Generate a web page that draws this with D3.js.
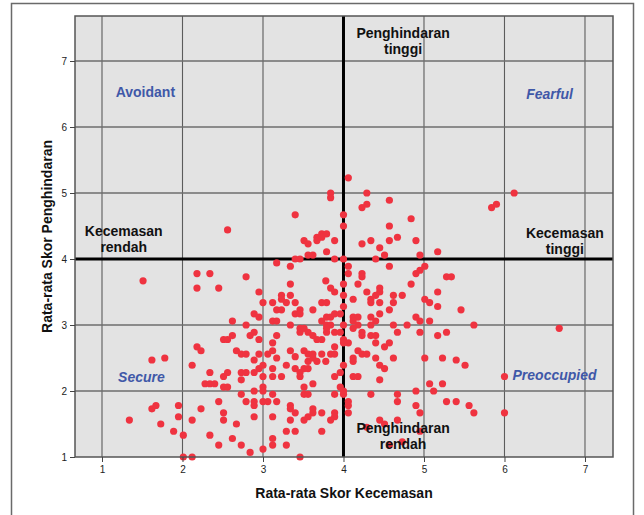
<!DOCTYPE html>
<html>
<head>
<meta charset="utf-8">
<script src="https://cdn.jsdelivr.net/npm/d3@7/dist/d3.min.js"></script>
<style>
  html, body { margin: 0; padding: 0; background: #ffffff; }
  svg { display: block; font-family: "Liberation Sans", Arial, Helvetica, sans-serif; }
</style>
</head>
<body>
<svg id="chart" width="644" height="515"></svg>
<script>
// Rata-rata skor kecemasan (sumbu X) per responden
const kecemasan = [
  2.56, 1.51, 2.18, 2.34, 2.18, 2.45, 2.62, 2.51, 2.56, 2.62, 2.18, 2.23, 2.67, 2.73, 1.62, 1.78,
  2.12, 2.34, 2.51, 2.56, 2.73, 2.28, 2.34, 2.40, 2.51, 2.56, 2.73, 2.73, 2.45, 1.62, 1.67, 1.95,
  2.23, 1.34, 1.73, 1.95, 2.12, 2.51, 2.51, 2.67, 1.89, 2.01, 2.34, 2.62, 2.45, 2.73, 2.01, 2.12,
  3.84, 3.84, 3.40, 3.51, 3.56, 3.67, 3.73, 3.79, 3.67, 3.73, 3.89, 3.79, 3.56, 3.62, 3.40, 3.46, 3.89,
  3.17, 3.34, 2.79, 3.34, 3.78, 3.84, 3.89, 2.95, 3.23, 3.23, 3.34, 3.00, 3.12, 3.29, 3.40, 3.73,
  3.79, 3.17, 3.23, 3.40, 3.46, 3.46, 3.62, 3.96, 3.79, 3.84, 3.89, 2.89, 2.95, 3.12, 3.17, 2.79,
  3.34, 3.73, 3.79, 3.84, 3.46, 3.46, 3.51, 3.56, 3.62, 3.67, 3.73, 3.79, 3.79, 3.89, 3.96, 2.84,
  2.89, 2.95, 3.12, 3.17, 3.89, 2.79, 2.95, 3.12, 3.06, 3.34, 3.51, 3.56, 3.62, 3.73, 3.84, 3.89,
  2.89, 3.40,
  3.17, 3.56, 3.62, 3.67, 3.78, 3.29, 2.95, 3.00, 2.79, 2.89, 3.12, 3.40, 3.46, 3.51, 3.56, 3.96,
  3.00, 3.12, 3.23, 3.46, 3.89, 3.62, 3.00, 3.00, 2.89, 3.51, 3.51, 3.56, 3.89, 3.96, 2.79, 2.89,
  2.89, 3.00, 3.06, 3.12, 3.17, 3.34, 3.34, 3.40, 3.62, 3.62, 3.56, 3.51, 3.73, 3.89, 3.89, 3.84,
  2.89, 3.12, 3.34, 3.29, 3.40, 3.73, 3.12, 3.12, 3.29, 2.84, 3.00, 3.46,
  4.06, 4.29, 4.23, 4.29, 4.57, 4.00, 4.00, 4.57, 4.84, 4.23, 4.34, 4.57, 4.67, 4.90, 4.45, 4.51,
  5.17, 4.95, 4.00, 4.40,
  4.06, 4.06, 4.23, 4.23, 4.57, 4.95, 4.90, 5.01, 5.28, 5.34, 4.00, 4.18, 4.84, 4.29, 4.45, 4.45,
  4.40, 4.34, 4.34, 4.00, 4.12, 4.62, 4.73, 4.62, 4.45, 5.01, 5.07, 5.17, 5.17, 4.00, 4.57, 4.45,
  5.46, 4.12, 4.18, 4.12, 4.34, 4.40, 4.34, 4.90, 4.95, 5.07, 4.00, 4.18, 4.62, 4.79, 5.62, 4.12,
  4.23, 4.23, 4.67, 4.95, 5.28, 5.17, 4.34, 4.40, 4.00, 4.06, 4.00, 4.40, 4.51, 4.57, 4.18, 4.23,
  4.29, 4.12, 4.40, 4.62, 5.01, 5.23, 5.40,
  4.12, 5.51, 4.45, 4.51, 4.00, 4.12, 4.18, 4.45, 4.00, 4.00, 5.07, 5.12, 5.23, 4.90, 4.34, 4.67,
  4.67, 4.06, 4.06, 4.06, 4.90, 4.95, 5.28, 5.40, 5.56, 5.62, 4.45, 4.51, 4.67, 4.29, 4.95, 4.73,
  4.57,
  6.12, 5.84, 5.90, 6.68, 6.00, 6.00
];

// Rata-rata skor penghindaran (sumbu Y) per responden, urutan sama
const penghindaran = [
  4.44, 3.67, 3.78, 3.78, 3.56, 3.56, 3.06, 2.78, 2.78, 2.84, 2.67, 2.61, 2.61, 2.56, 2.47, 2.50,
  2.39, 2.28, 2.22, 2.28, 2.28, 2.11, 2.11, 2.11, 2.06, 2.06, 2.17, 1.95, 1.84, 1.73, 1.78, 1.78,
  1.73, 1.56, 1.50, 1.61, 1.56, 1.67, 1.56, 1.50, 1.39, 1.33, 1.33, 1.28, 1.18, 1.18, 1.00, 1.00,
  5.00, 4.93, 4.67, 4.28, 4.23, 4.33, 4.38, 4.38, 4.28, 4.33, 4.28, 4.11, 4.06, 4.06, 4.00, 4.00, 4.00,
  3.94, 3.89, 3.73, 3.62, 3.67, 3.56, 3.50, 3.50, 3.45, 3.39, 3.45, 3.34, 3.34, 3.34, 3.34, 3.34,
  3.34, 3.23, 3.23, 3.17, 3.23, 3.17, 3.23, 3.17, 3.12, 3.12, 3.17, 3.17, 3.12, 3.06, 3.06, 3.00,
  3.00, 3.06, 3.00, 3.00, 2.95, 2.89, 2.95, 2.89, 2.84, 2.78, 2.78, 2.89, 2.95, 2.89, 2.89, 2.84,
  2.89, 2.78, 2.73, 2.84, 2.67, 2.56, 2.56, 2.61, 2.56, 2.61, 2.61, 2.56, 2.56, 2.56, 2.56, 2.56,
  2.47, 2.52,
  2.50, 2.45, 2.50, 2.45, 2.45, 2.39, 2.34, 2.39, 2.28, 2.28, 2.34, 2.34, 2.28, 2.34, 2.34, 2.28,
  2.22, 2.22, 2.22, 2.22, 2.22, 2.11, 2.06, 2.00, 2.00, 2.06, 1.95, 1.95, 1.95, 2.06, 1.84, 1.84,
  1.78, 1.84, 1.84, 1.95, 1.84, 1.78, 1.73, 1.67, 1.73, 1.67, 1.61, 1.56, 1.67, 1.67, 1.61, 1.56,
  1.61, 1.61, 1.56, 1.39, 1.39, 1.39, 1.28, 1.18, 1.18, 1.07, 1.12, 1.00,
  5.23, 5.00, 4.78, 4.83, 4.89, 4.67, 4.50, 4.50, 4.61, 4.23, 4.28, 4.28, 4.33, 4.28, 4.17, 4.06,
  4.11, 4.06, 4.00, 4.00,
  3.89, 3.78, 3.78, 3.73, 3.89, 3.83, 3.78, 3.89, 3.73, 3.73, 3.62, 3.62, 3.62, 3.50, 3.56, 3.50,
  3.45, 3.39, 3.34, 3.45, 3.39, 3.45, 3.45, 3.34, 3.34, 3.39, 3.34, 3.50, 3.28, 3.28, 3.23, 3.17,
  3.23, 3.12, 3.12, 3.06, 3.12, 3.06, 3.00, 3.12, 3.06, 3.06, 3.00, 3.00, 3.00, 3.00, 3.00, 2.95,
  2.89, 2.84, 2.89, 2.89, 2.89, 2.84, 2.84, 2.84, 2.78, 2.73, 2.73, 2.73, 2.67, 2.73, 2.61, 2.56,
  2.56, 2.50, 2.50, 2.50, 2.50, 2.50, 2.47,
  2.45, 2.39, 2.39, 2.34, 2.39, 2.22, 2.22, 2.17, 2.00, 1.95, 2.11, 2.00, 2.11, 2.00, 1.95, 1.95,
  1.84, 1.84, 1.78, 1.67, 1.78, 1.67, 1.84, 1.84, 1.78, 1.67, 1.56, 1.50, 1.56, 1.45, 1.39, 1.23,
  1.18,
  5.00, 4.78, 4.83, 2.95, 2.22, 1.67
];

const sumbuTicks = [1, 2, 3, 4, 5, 6, 7];
const titikPotong = { kecemasan: 4, penghindaran: 4 };

// two-line direction labels, anchored at their centre (data units)
const labelArah = [
  { baris: ["Penghindaran", "tinggi"], x: 4.74, y: 7.35 },
  { baris: ["Kecemasan", "rendah"], x: 1.27, y: 4.35 },
  { baris: ["Kecemasan", "tinggi"], x: 6.75, y: 4.32 },
  { baris: ["Penghindaran", "rendah"], x: 4.74, y: 1.36 }
];

// attachment style labels, anchored at their start (data units)
const labelGaya = [
  { teks: "Avoidant", x: 1.17, y: 6.46, miring: false },
  { teks: "Fearful", x: 6.27, y: 6.42, miring: true },
  { teks: "Secure", x: 1.2, y: 2.13, miring: true },
  { teks: "Preoccupied", x: 6.1, y: 2.17, miring: true }
];

const svg = d3.select("#chart");

// outer frame
svg.append("rect")
  .attr("x", 11.5).attr("y", 3.5)
  .attr("width", 622).attr("height", 520)
  .attr("fill", "none").attr("stroke", "#6a6a6a").attr("stroke-width", 1.5);

const plot = { left: 75, right: 613, top: 16, bottom: 457 };

const x = d3.scaleLinear().domain([0.6646, 7.348]).range([plot.left, plot.right]);
const y = d3.scaleLinear().domain([1, 7.682]).range([plot.bottom, plot.top]);

// plot background
svg.append("rect")
  .attr("x", plot.left).attr("y", plot.top)
  .attr("width", plot.right - plot.left).attr("height", plot.bottom - plot.top)
  .attr("fill", "#e3e3e3");

// grid
const grid = svg.append("g");
grid.selectAll("line.gx").data(sumbuTicks).join("line")
  .attr("x1", d => x(d)).attr("x2", d => x(d))
  .attr("y1", plot.top).attr("y2", plot.bottom)
  .attr("stroke", "#5c5c5c").attr("stroke-width", 1.1);
grid.selectAll("line.gy").data(sumbuTicks.filter(d => d > 1)).join("line")
  .attr("x1", plot.left).attr("x2", plot.right)
  .attr("y1", d => y(d)).attr("y2", d => y(d))
  .attr("stroke", "#6e6e6e").attr("stroke-width", 1.4);

// reference lines at the cut points
svg.append("line")
  .attr("x1", x(titikPotong.kecemasan)).attr("x2", x(titikPotong.kecemasan))
  .attr("y1", plot.top).attr("y2", plot.bottom)
  .attr("stroke", "#000").attr("stroke-width", 3);
svg.append("line")
  .attr("x1", plot.left).attr("x2", plot.right)
  .attr("y1", y(titikPotong.penghindaran)).attr("y2", y(titikPotong.penghindaran))
  .attr("stroke", "#000").attr("stroke-width", 3);

// points
svg.append("g").selectAll("circle")
  .data(d3.range(kecemasan.length))
  .join("circle")
  .attr("cx", i => x(kecemasan[i]))
  .attr("cy", i => y(penghindaran[i]))
  .attr("r", 3.6)
  .attr("fill", "#ef3340");

// plot border
svg.append("rect")
  .attr("x", plot.left).attr("y", plot.top)
  .attr("width", plot.right - plot.left).attr("height", plot.bottom - plot.top)
  .attr("fill", "none").attr("stroke", "#555").attr("stroke-width", 1.5);

// axes
const xAxis = d3.axisBottom(x).tickValues(sumbuTicks).tickSize(5).tickPadding(4).tickFormat(d3.format("d"));
const yAxis = d3.axisLeft(y).tickValues(sumbuTicks).tickSize(5).tickPadding(3).tickFormat(d3.format("d"));

const gx = svg.append("g").attr("transform", `translate(0,${plot.bottom})`).call(xAxis);
const gy = svg.append("g").attr("transform", `translate(${plot.left},0)`).call(yAxis);
[gx, gy].forEach(g => {
  g.select(".domain").remove();
  g.selectAll(".tick line").attr("stroke", "#444");
  g.selectAll(".tick text").attr("fill", "#222").attr("font-size", 10)
    .attr("font-family", "'Liberation Sans', Arial, sans-serif");
});

// axis titles
svg.append("text")
  .attr("x", (plot.left + plot.right) / 2).attr("y", 498)
  .attr("text-anchor", "middle")
  .attr("font-size", 14).attr("font-weight", "bold").attr("fill", "#111")
  .text("Rata-rata Skor Kecemasan");
svg.append("text")
  .attr("transform", `translate(52,${(plot.top + plot.bottom) / 2}) rotate(-90)`)
  .attr("text-anchor", "middle")
  .attr("font-size", 14).attr("font-weight", "bold").attr("fill", "#111")
  .text("Rata-rata Skor Penghindaran");

// direction labels
const arah = svg.append("g");
labelArah.forEach(l => {
  const t = arah.append("text")
    .attr("x", x(l.x)).attr("y", y(l.y))
    .attr("text-anchor", "middle")
    .attr("font-size", 14).attr("font-weight", "bold").attr("fill", "#111");
  l.baris.forEach((b, i) => {
    t.append("tspan").attr("x", x(l.x)).attr("dy", i === 0 ? 0 : 16).text(b);
  });
});

// attachment style labels
svg.append("g").selectAll("text")
  .data(labelGaya)
  .join("text")
  .attr("x", d => x(d.x)).attr("y", d => y(d.y))
  .attr("font-size", 14).attr("font-weight", "bold")
  .attr("font-style", d => d.miring ? "italic" : "normal")
  .attr("fill", "#3f58a8")
  .text(d => d.teks);
</script>
</body>
</html>
